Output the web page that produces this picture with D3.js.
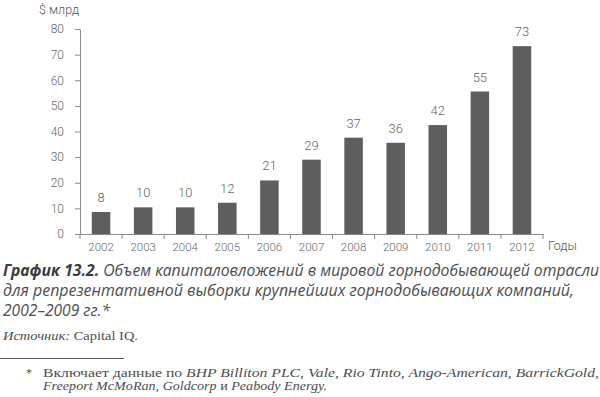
<!DOCTYPE html>
<meta charset="utf-8">
<style>
body { margin: 0; background: #fff; }
svg { display: block; }
.axis text { font-family: Roboto, "DejaVu Sans", sans-serif; font-weight: 300; fill: #666; }
.axis path, .axis line { stroke: #8a8a8a; }
.bar { fill: #5e5e5e; }
.val { font-family: Roboto, sans-serif; font-weight: 300; font-size: 13px; fill: #666; text-anchor: middle; }
.cap { font-family: "Open Sans", "Noto Sans", sans-serif; font-style: italic; font-size: 15.5px; fill: #4d4d4d; }
.serif { font-family: "Liberation Serif", "DejaVu Serif", serif; fill: #4d4d4d; }
</style>
<svg width="600" height="397"></svg>
<script src="https://d3js.org/d3.v7.min.js"></script>
<script>

var years = ["2002", "2003", "2004", "2005", "2006", "2007", "2008", "2009", "2010", "2011", "2012"];
var values = [8.6, 10.4, 10.4, 12.2, 20.9, 29, 37.6, 35.6, 42.5, 55.6, 73.3];
var valueLabels = ["8", "10", "10", "12", "21", "29", "37", "36", "42", "55", "73"];
var yTicks = [0, 10, 20, 30, 40, 50, 60, 70, 80];

var svg = d3.select("svg");
var plot = {left: 80, right: 543, top: 29, bottom: 234};

var x = d3.scaleBand().domain(years).range([plot.left, plot.right]).padding(0);
var y = d3.scaleLinear().domain([0, 80]).range([plot.bottom, plot.top]);
var barW = x.bandwidth() * 0.44;

// y axis
var gy = svg.append("g")
    .attr("class", "axis")
    .attr("transform", "translate(" + plot.left + ",0)")
    .call(d3.axisLeft(y).tickValues(yTicks).tickSize(5).tickSizeOuter(0).tickPadding(11));
gy.selectAll("text").style("font-size", "12px");

// x axis: line, boundary ticks, labels
var gx = svg.append("g")
    .attr("class", "axis")
    .attr("transform", "translate(0," + plot.bottom + ")")
    .call(d3.axisBottom(x).tickSize(0).tickPadding(9).tickSizeOuter(0));
gx.selectAll("text").style("font-size", "11.5px");
var bounds = years.map(function(d) { return x(d); }).concat([plot.right]);
gx.selectAll(".bound")
  .data(bounds)
  .enter().append("line")
    .attr("class", "bound")
    .attr("x1", function(d) { return d; })
    .attr("x2", function(d) { return d; })
    .attr("y1", 0)
    .attr("y2", 5);

svg.append("text")
    .attr("x", 39).attr("y", 14)
    .style("font-family", "Roboto, sans-serif").style("font-weight", 300)
    .style("font-size", "12.5px").style("fill", "#555")
    .text("$ млрд");

svg.append("text")
    .attr("x", 548).attr("y", 250)
    .style("font-family", "Roboto, sans-serif").style("font-weight", 300)
    .style("font-size", "12.5px").style("fill", "#555")
    .text("Годы");

// bars
svg.selectAll(".bar")
  .data(values)
  .enter().append("rect")
    .attr("class", "bar")
    .attr("x", function(d, i) { return x(years[i]) + (x.bandwidth() - barW) / 2; })
    .attr("y", function(d) { return y(d); })
    .attr("width", barW)
    .attr("height", function(d) { return plot.bottom - y(d); });

svg.selectAll(".val")
  .data(values)
  .enter().append("text")
    .attr("class", "val")
    .attr("x", function(d, i) { return x(years[i]) + x.bandwidth() / 2; })
    .attr("y", function(d) { return y(d) - 10; })
    .text(function(d, i) { return valueLabels[i]; });

// caption
var l1 = svg.append("text").attr("class", "cap").attr("x", 3).attr("y", 276)
    .attr("textLength", 596).attr("lengthAdjust", "spacingAndGlyphs");
l1.append("tspan").style("font-weight", 700).style("fill", "#3c3c3c").text("График 13.2.");
l1.append("tspan").text(" Объем капиталовложений в мировой горнодобывающей отрасли");

svg.append("text").attr("class", "cap").attr("x", 3).attr("y", 296)
    .attr("textLength", 571).attr("lengthAdjust", "spacingAndGlyphs")
    .text("для репрезентативной выборки крупнейших горнодобывающих компаний,");

svg.append("text").attr("class", "cap").attr("x", 3).attr("y", 316)
    .attr("textLength", 107).attr("lengthAdjust", "spacingAndGlyphs")
    .text("2002–2009 гг.*");

var src = svg.append("text").attr("class", "serif").attr("x", 3).attr("y", 340)
    .style("font-size", "12.5px")
    .attr("textLength", 135).attr("lengthAdjust", "spacingAndGlyphs");
src.append("tspan").style("font-style", "italic").text("Источник:");
src.append("tspan").text(" Capital IQ.");

svg.append("line")
    .attr("x1", 0).attr("x2", 124).attr("y1", 358.5).attr("y2", 358.5)
    .style("stroke", "#555").style("stroke-width", 1);

svg.append("text").attr("class", "serif").attr("x", 26).attr("y", 377)
    .style("font-size", "12px").text("*");

var f1 = svg.append("text").attr("class", "serif").attr("x", 43).attr("y", 377)
    .style("font-size", "12px")
    .attr("textLength", 556).attr("lengthAdjust", "spacingAndGlyphs");
f1.append("tspan").text("Включает данные по ");
f1.append("tspan").style("font-style", "italic").text("BHP Billiton PLC, Vale, Rio Tinto, Ango-American, BarrickGold,");

var f2 = svg.append("text").attr("class", "serif").attr("x", 43).attr("y", 389.5)
    .style("font-size", "12px").style("font-style", "italic")
    .attr("textLength", 284).attr("lengthAdjust", "spacingAndGlyphs");
f2.append("tspan").text("Freeport McMoRan, Goldcorp ");
f2.append("tspan").style("font-style", "normal").text("и");
f2.append("tspan").text(" Peabody Energy.");

</script>
